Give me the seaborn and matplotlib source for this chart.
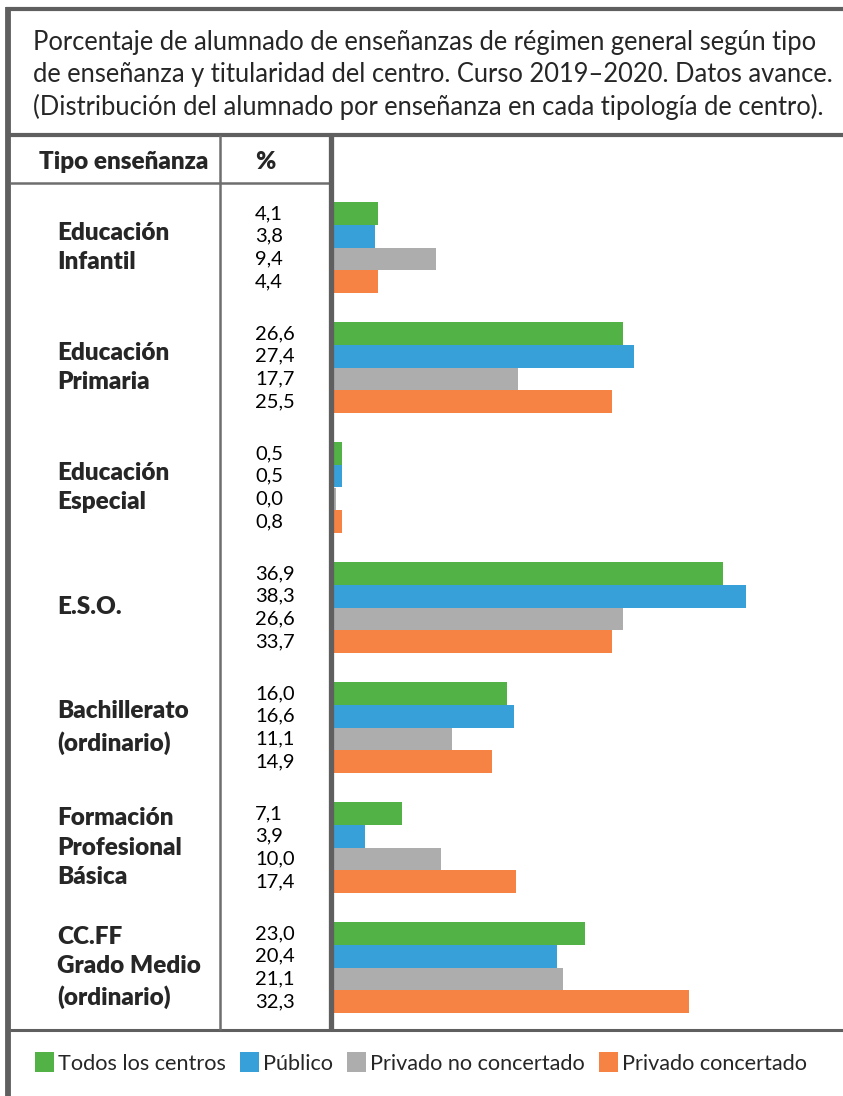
import numpy as np
import pandas as pd
import matplotlib.pyplot as plt
import matplotlib.transforms as mtransforms
from matplotlib.lines import Line2D
import seaborn as sns

# -----------------------------
# Datos
# -----------------------------
tipos = ["Educación\nInfantil", "Educación\nPrimaria", "Educación\nEspecial", "E.S.O.",
         "Bachillerato\n(ordinario)", "Formación\nProfesional\nBásica",
         "CC.FF\nGrado Medio\n(ordinario)"]
titularidad = ["Todos los centros", "Público", "Privado no concertado", "Privado concertado"]

# porcentajes impresos en la tabla
todos = [4.1, 26.6, 0.5, 36.9, 16.0, 7.1, 23.0]
publico = [3.8, 27.4, 0.5, 38.3, 16.6, 3.9, 20.4]
privado_nc = [9.4, 17.7, 0.0, 26.6, 11.1, 10.0, 21.1]
privado_c = [4.4, 25.5, 0.8, 33.7, 14.9, 17.4, 32.3]

# longitud de las barras tal como aparecen dibujadas en el original
todos_barra = [4.14, 26.5, 0.8, 35.6, 15.9, 6.3, 23.0]
publico_barra = [3.86, 27.5, 0.8, 37.7, 16.5, 2.9, 20.5]
privado_nc_barra = [9.43, 16.9, 0.3, 26.5, 10.9, 9.9, 21.0]
privado_c_barra = [4.14, 25.5, 0.8, 25.5, 14.5, 16.7, 32.5]

colores = ["#52B245", "#38A0D9", "#ADADAD", "#F68343"]

titulo = ("Porcentaje de alumnado de enseñanzas de régimen general según tipo\n"
          "de enseñanza y titularidad del centro. Curso 2019–2020. Datos avance.\n"
          "(Distribución del alumnado por enseñanza en cada tipología de centro).")

df = pd.DataFrame({
    "tipo": np.tile(tipos, 4),
    "titularidad": np.repeat(titularidad, len(tipos)),
    "valor": todos + publico + privado_nc + privado_c,
    "barra": todos_barra + publico_barra + privado_nc_barra + privado_c_barra,
})

# -----------------------------
# Figura
# -----------------------------
sns.set_style("white")
plt.rcParams['font.family'] = ['Lato', 'DejaVu Sans']

W, H = 843, 1096
fig = plt.figure(figsize=(W / 100, H / 100), dpi=100)

def fx(px):
    return px / W

def fy(py):
    return 1 - py / H

ax = fig.add_axes([fx(333), fy(1030), fx(843 - 333), (1030 - 183) / H])
sns.barplot(data=df, x="barra", y="tipo", hue="titularidad", palette=colores,
            orient="h", width=0.758, gap=0, saturation=1, ax=ax, legend=True,
            linewidth=0, edgecolor="none")
ax.set_xlim(0, 510 / 10.95)
ax.set_ylim((1030 - 247.5) / 120, (183 - 247.5) / 120)
ax.axis("off")

handles, labels = ax.get_legend_handles_labels()
ax.get_legend().remove()

# etiquetas de valores (columna %) y de tipo de enseñanza
trans = mtransforms.blended_transform_factory(fig.transFigure, ax.transData)
for cont, serie in zip(ax.containers, titularidad):
    vals = df.loc[df["titularidad"] == serie, "valor"].tolist()
    for bar, v in zip(cont, vals):
        yc = bar.get_y() + bar.get_height() / 2
        ax.text(fx(255), yc, f"{v:.1f}".replace(".", ","), transform=trans,
                ha="left", va="center", fontsize=14.5, color="black", clip_on=False)

for i, t in enumerate(tipos):
    ax.text(fx(57), i, t, transform=trans, ha="left", va="center",
            fontsize=17.5, fontweight="heavy", linespacing=1.43, clip_on=False)

# titulo y cabecera
fig.text(fx(33), fy(75), titulo, ha="left", va="center", fontsize=18.4, linespacing=1.36)
fig.text(fx(124), fy(162), "Tipo enseñanza", ha="center", va="center",
         fontsize=17.5, fontweight="heavy")
fig.text(fx(265), fy(162), "%", ha="center", va="center", fontsize=17.5, fontweight="heavy")

# lineas de la tabla
def linea(x0, y0, x1, y1, lw, color="#5f5f5f"):
    fig.add_artist(Line2D([fx(x0), fx(x1)], [fy(y0), fy(y1)], lw=lw, color=color,
                          transform=fig.transFigure, solid_capstyle="butt"))

linea(8, 7, 8, H, 4.2)
linea(6, 9, W, 9, 3)
linea(10, 135, W, 135, 3)
linea(10, 183, 330, 183, 1.8, "#6e6e6e")
linea(10, 1030, W, 1030, 2.2)
linea(220, 135, 220, 1030, 1.8, "#6e6e6e")
linea(330.5, 135, 330.5, 1030, 3.8)

# leyenda
fig.legend(handles, labels, loc="center left", bbox_to_anchor=(fx(35), fy(1063)),
           ncol=4, frameon=False, fontsize=15.6, handlelength=0.86, handleheight=1.0,
           handletextpad=0.2, columnspacing=0.66, borderpad=0, borderaxespad=0)

plt.savefig("out.png", dpi=100)
